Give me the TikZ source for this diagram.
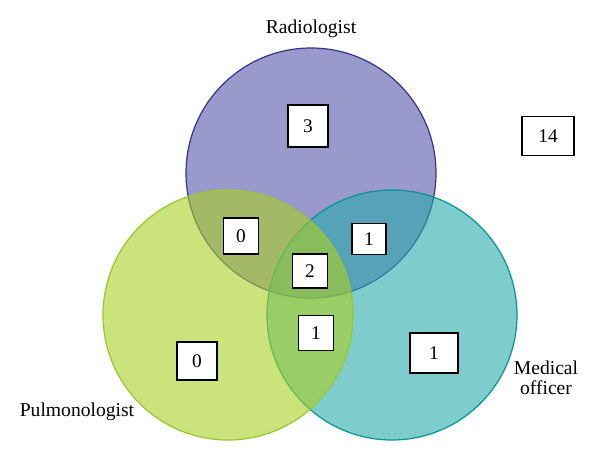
\documentclass[tikz,border=0pt]{standalone}
\usepackage{fontspec}
\setmainfont{Liberation Serif}
\begin{document}
\begin{tikzpicture}[x=0.75pt,y=-0.75pt,
  venn/.style={circle,minimum size=250*0.75pt,inner sep=0pt,line width=0.9pt,fill opacity=0.6},
  countbox/.style={draw=black,fill=white,line width=1.1pt,inner sep=0pt,font=\fontsize{14.5}{16}\selectfont},
  lbl/.style={font=\fontsize{14.7}{18}\selectfont,align=center}]
\definecolor{purpfill}{RGB}{85,85,170}
\definecolor{purpline}{RGB}{51,51,140}
\definecolor{teafill}{RGB}{42,170,170}
\definecolor{tealline}{RGB}{0,150,150}
\definecolor{grnfill}{RGB}{170,207,33}
\definecolor{grnline}{RGB}{150,200,50}
\useasboundingbox (0,0) rectangle (600,461);
\node[venn,fill=purpfill,draw=purpline] (rad) at (311,173) {};
\node[venn,fill=teafill,draw=tealline] (med) at (392,315) {};
\node[venn,fill=grnfill,draw=grnline] (pul) at (228,315) {};
\node[lbl] (radl) at (311,29) {Radiologist};
\node[lbl] (pull) at (77,412) {Pulmonologist};
\node[lbl] (medl) at (546,378) {Medical\\[-3pt]officer};
\node[countbox,minimum width=40*0.75pt,minimum height=42*0.75pt] (b3) at (308,126) {3};
\node[countbox,minimum width=52*0.75pt,minimum height=39*0.75pt] (b14) at (548,136) {14};
\node[countbox,minimum width=35*0.75pt,minimum height=36*0.75pt] (b0a) at (241,236) {0};
\node[countbox,minimum width=34*0.75pt,minimum height=31*0.75pt] (b1a) at (369,239) {1};
\node[countbox,minimum width=35*0.75pt,minimum height=34*0.75pt] (b2) at (310,271) {2};
\node[countbox,minimum width=35*0.75pt,minimum height=35*0.75pt] (b1b) at (316,333) {1};
\node[countbox,minimum width=40*0.75pt,minimum height=38*0.75pt] (b0b) at (197,361) {0};
\node[countbox,minimum width=48*0.75pt,minimum height=40*0.75pt] (b1c) at (434,353) {1};
\end{tikzpicture}
\end{document}
